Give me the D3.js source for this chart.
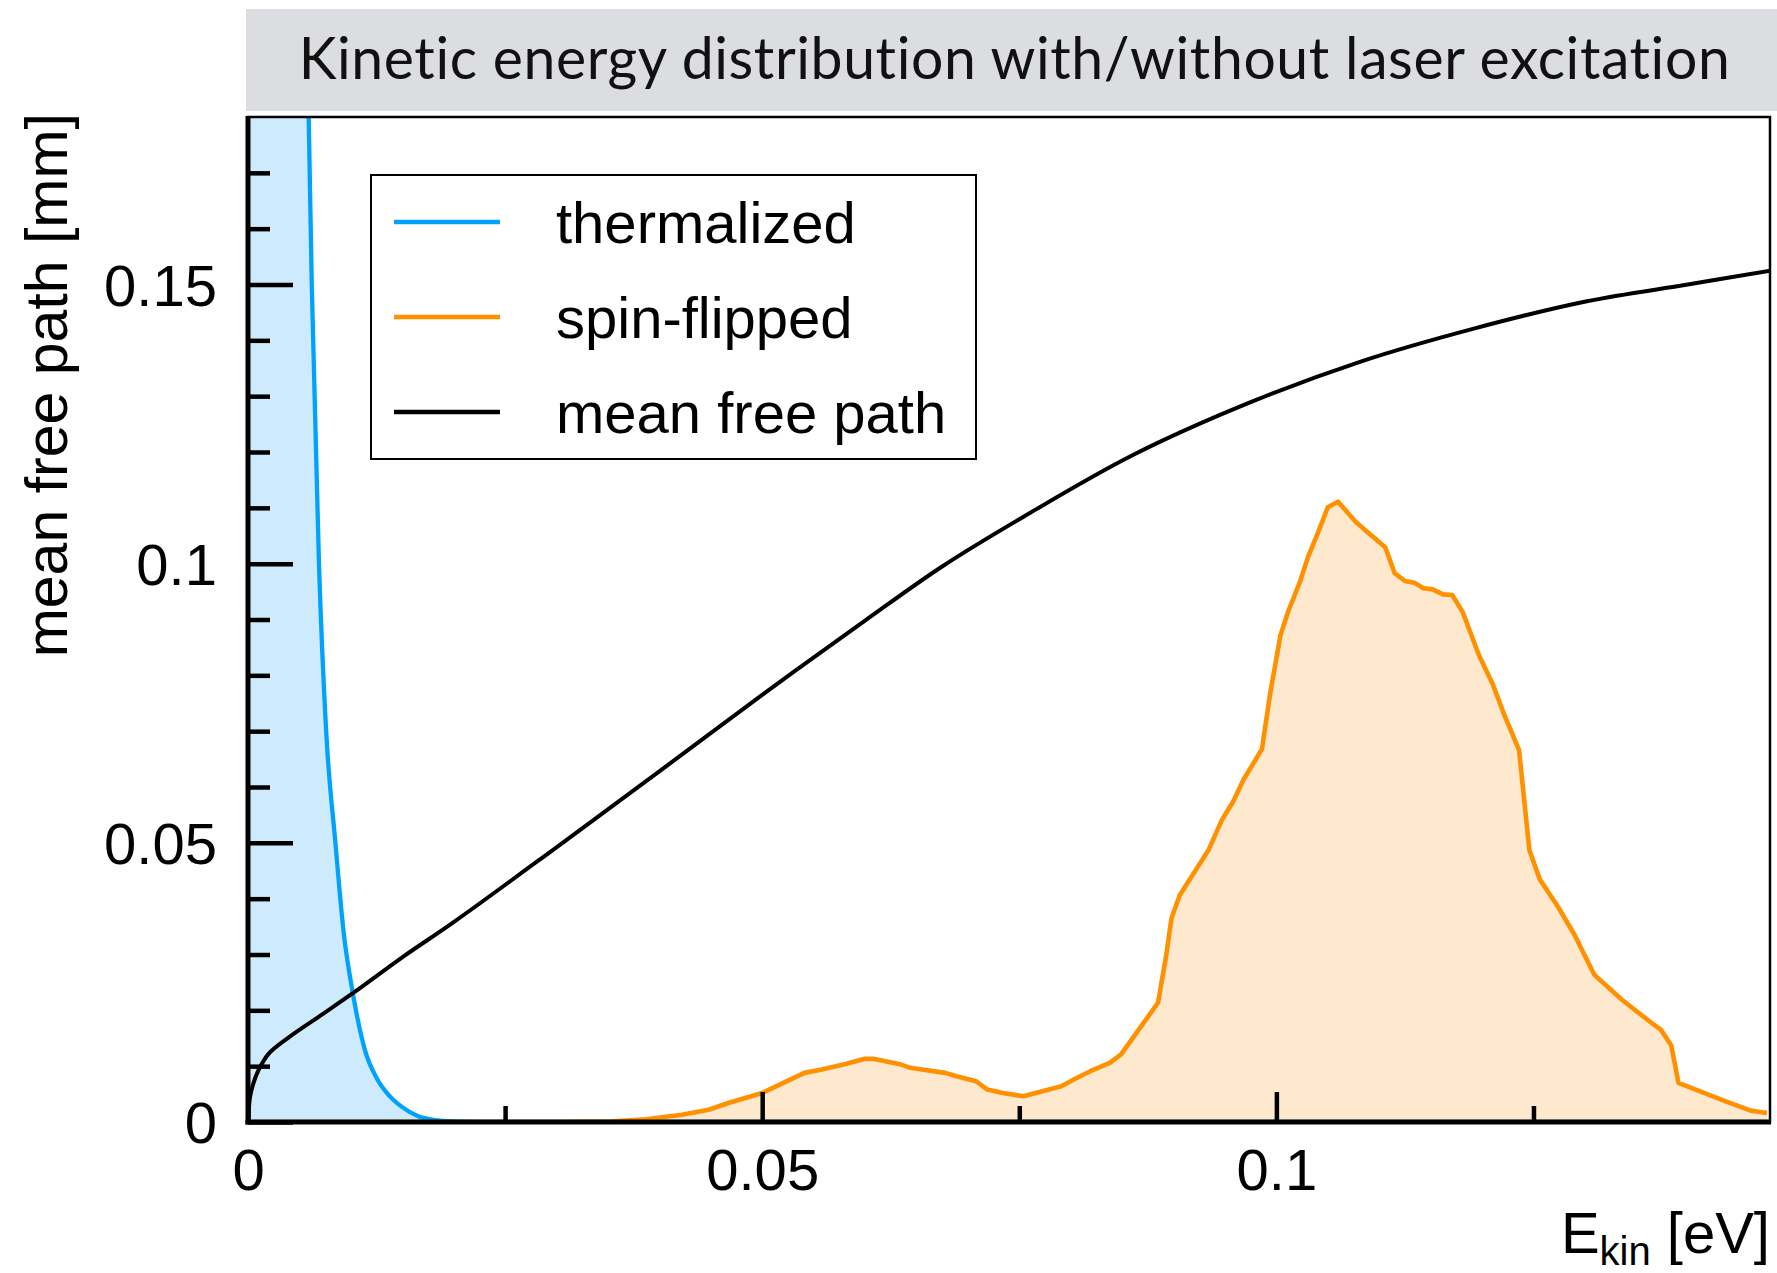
<!DOCTYPE html>
<html>
<head>
<meta charset="utf-8">
<script src="https://cdn.jsdelivr.net/npm/d3@7/dist/d3.min.js"></script>
<style>
  html, body { margin: 0; padding: 0; background: #ffffff; }
  svg { display: block; }
  .title { font-variant-ligatures: none; font-feature-settings: "liga" 0, "clig" 0, "dlig" 0; letter-spacing: 0.6px; }
</style>
</head>
<body>
<svg id="chart" width="1777" height="1273"></svg>
<script>
// Kinetic energy [eV] vs. value; mean free path in mm, distributions in arbitrary units on the same axis
const thermalizedE = [0, 0.003, 0.005, 0.0059, 0.0062, 0.0069, 0.0076, 0.0085, 0.0093, 0.0102, 0.0114, 0.0125, 0.0138, 0.0149, 0.0166, 0.018, 0.02, 0.025, 0.03, 0.148];
const thermalizedV = [0.6, 0.33, 0.22, 0.18, 0.15, 0.10, 0.070, 0.05, 0.034, 0.023, 0.0127, 0.0079, 0.0046, 0.0028, 0.001, 0.0004, 0.0001, 0, 0, 0];

const spinFlippedE = [0, 0.03, 0.0352, 0.0387, 0.0422, 0.0448, 0.0467, 0.05, 0.0517, 0.0541, 0.0558, 0.0581, 0.0599, 0.0609, 0.0633, 0.0644, 0.0678, 0.0689, 0.0708, 0.0719, 0.0734, 0.0754, 0.0791, 0.0803, 0.0819, 0.0838, 0.0849, 0.0885, 0.0893, 0.0898, 0.0906, 0.0934, 0.0947, 0.0958, 0.0968, 0.0986, 0.0994, 0.1004, 0.1012, 0.1023, 0.1031, 0.1041, 0.1050, 0.1060, 0.1077, 0.1087, 0.1096, 0.1106, 0.1115, 0.1125, 0.1134, 0.1143, 0.1152, 0.1162, 0.1171, 0.1181, 0.1197, 0.1210, 0.1221, 0.1236, 0.1246, 0.1256, 0.1274, 0.1290, 0.1309, 0.1336, 0.1363, 0.1374, 0.1384, 0.1391, 0.1437, 0.1462, 0.1477];
const spinFlippedV = [0, 0, 0.0001, 0.0005, 0.0013, 0.0022, 0.0034, 0.0052, 0.0067, 0.0088, 0.0094, 0.0104, 0.0113, 0.0113, 0.0104, 0.0097, 0.0088, 0.0082, 0.0073, 0.0058, 0.0052, 0.0046, 0.0064, 0.0076, 0.0091, 0.0106, 0.0121, 0.0214, 0.0300, 0.0365, 0.0406, 0.0487, 0.0541, 0.0574, 0.0613, 0.0668, 0.0768, 0.0872, 0.0917, 0.0968, 0.1013, 0.1058, 0.1101, 0.1111, 0.1075, 0.1059, 0.1045, 0.1029, 0.0983, 0.0969, 0.0966, 0.0956, 0.0954, 0.0945, 0.0944, 0.0914, 0.0836, 0.0786, 0.0732, 0.0666, 0.0487, 0.0435, 0.0385, 0.0335, 0.0264, 0.0219, 0.0180, 0.0165, 0.0137, 0.0070, 0.0037, 0.0020, 0.0016];

const meanFreePathE = [0, 0.0002, 0.0005, 0.001, 0.002, 0.004, 0.007, 0.0103, 0.015, 0.02, 0.03, 0.04, 0.05, 0.06, 0.0675, 0.0755, 0.0861, 0.0972, 0.1082, 0.1192, 0.1302, 0.14, 0.1481];
const meanFreePathV = [0, 0.0045, 0.0068, 0.0092, 0.0122, 0.0152, 0.0190, 0.0232, 0.0295, 0.0358, 0.0492, 0.0628, 0.0765, 0.0898, 0.0995, 0.1085, 0.1195, 0.1287, 0.1362, 0.1421, 0.1470, 0.1500, 0.1525];

const xMajorTicks = [0, 0.05, 0.1];
const xMajorLabels = ["0", "0.05", "0.1"];
const xMinorTicks = [0.025, 0.075, 0.125];
const yMajorTicks = [0, 0.05, 0.1, 0.15];
const yMajorLabels = ["0", "0.05", "0.1", "0.15"];
const yMinorTicks = [0.01, 0.02, 0.03, 0.04, 0.06, 0.07, 0.08, 0.09, 0.11, 0.12, 0.13, 0.14, 0.16, 0.17];

const legendLabels = ["thermalized", "spin-flipped", "mean free path"];
const titleText = "Kinetic energy distribution with/without laser excitation";

const colors = {
  thermLine: "#00a2fb", thermFill: "#cdebfd",
  spinLine: "#ff9100", spinFill: "#fee8ce",
  mfp: "#000000"
};

const svg = d3.select("#chart");
const W = 1777;
const plot = { left: 248, right: 1770, top: 117, bottom: 1122 };

const x = d3.scaleLinear().domain([0, 0.148]).range([plot.left, plot.right]);
const y = d3.scaleLinear().domain([0, 0.18]).range([plot.bottom, plot.top]);

const zip = (a, b) => a.map((v, i) => [v, b[i]]);
const thermal = zip(thermalizedE, thermalizedV);
const spin = zip(spinFlippedE, spinFlippedV);
const mfp = zip(meanFreePathE, meanFreePathV);

// Title strip
const titleBox = { x0: 246, y0: 9, y1: 111 };
svg.append("rect")
  .attr("x", titleBox.x0).attr("y", titleBox.y0)
  .attr("width", W - titleBox.x0).attr("height", titleBox.y1 - titleBox.y0)
  .attr("fill", "#dcdde0");
const title = svg.append("text")
  .attr("class", "title")
  .attr("x", (titleBox.x0 + W) / 2 + 3)
  .attr("y", 79)
  .attr("text-anchor", "middle")
  .attr("font-family", "Lato, 'Open Sans', sans-serif")
  .attr("font-size", 54)
  .attr("fill", "#111")
  .text(titleText);
const tl = title.node().getComputedTextLength();
if (tl > 0) title.attr("font-size", 54 * 1434 / tl);

// Clip region for data marks
svg.append("clipPath").attr("id", "plotClip")
  .append("rect")
  .attr("x", plot.left).attr("y", plot.top)
  .attr("width", plot.right - plot.left).attr("height", plot.bottom - plot.top);

const g = svg.append("g").attr("clip-path", "url(#plotClip)");

const smooth = d3.curveCatmullRom.alpha(0.5);
const areaSmooth = d3.area().x(d => x(d[0])).y0(y(0)).y1(d => y(d[1])).curve(d3.curveMonotoneX);
const lineThermal = d3.line().x(d => x(d[0])).y(d => y(d[1])).curve(d3.curveMonotoneX);
const lineMfp = d3.line().x(d => x(d[0])).y(d => y(d[1])).curve(smooth);
const areaLin = d3.area().x(d => x(d[0])).y0(y(0)).y1(d => y(d[1]));
const lineLin = d3.line().x(d => x(d[0])).y(d => y(d[1]));

g.append("path").attr("d", areaSmooth(thermal)).attr("fill", colors.thermFill);
g.append("path").attr("d", areaLin(spin)).attr("fill", colors.spinFill);
g.append("path").attr("d", lineThermal(thermal)).attr("fill", "none")
  .attr("stroke", colors.thermLine).attr("stroke-width", 4.3).attr("stroke-linejoin", "round");
g.append("path").attr("d", lineLin(spin)).attr("fill", "none")
  .attr("stroke", colors.spinLine).attr("stroke-width", 4.6).attr("stroke-linejoin", "round");
g.append("path").attr("d", lineMfp(mfp)).attr("fill", "none")
  .attr("stroke", colors.mfp).attr("stroke-width", 4).attr("stroke-linejoin", "round");

// Axes
const axisFont = "'Liberation Sans', Arial, Helvetica, sans-serif";
const fs = 58;

const yAxis = svg.append("g").attr("transform", `translate(${plot.left},0)`)
  .call(d3.axisLeft(y).tickValues(yMajorTicks).tickFormat((d, i) => yMajorLabels[i]).tickSize(-45).tickPadding(31));
const yMinor = svg.append("g").attr("transform", `translate(${plot.left},0)`)
  .call(d3.axisLeft(y).tickValues(yMinorTicks).tickFormat("").tickSize(-22));
const xAxis = svg.append("g").attr("transform", `translate(0,${plot.bottom})`)
  .call(d3.axisBottom(x).tickValues(xMajorTicks).tickFormat((d, i) => xMajorLabels[i]).tickSize(-30).tickPadding(27));
const xMinor = svg.append("g").attr("transform", `translate(0,${plot.bottom})`)
  .call(d3.axisBottom(x).tickValues(xMinorTicks).tickFormat("").tickSize(-16));

[yAxis, yMinor, xAxis, xMinor].forEach(a => {
  a.select(".domain").remove();
  a.selectAll(".tick line").attr("stroke", "#000").attr("stroke-width", 4.5);
  a.selectAll(".tick text").attr("font-family", axisFont).attr("font-size", fs).attr("fill", "#000");
});
yAxis.selectAll(".tick text").attr("dy", "0.36em");

// Frame: thin top/right, heavy left/bottom
svg.append("rect")
  .attr("x", plot.left).attr("y", plot.top)
  .attr("width", plot.right - plot.left).attr("height", plot.bottom - plot.top)
  .attr("fill", "none").attr("stroke", "#000").attr("stroke-width", 2.5);
svg.append("line").attr("x1", plot.left).attr("x2", plot.left)
  .attr("y1", plot.top - 1).attr("y2", plot.bottom + 2.5)
  .attr("stroke", "#000").attr("stroke-width", 5);
svg.append("line").attr("x1", plot.left - 2.5).attr("x2", plot.right + 1)
  .attr("y1", plot.bottom).attr("y2", plot.bottom)
  .attr("stroke", "#000").attr("stroke-width", 5);

// Axis titles
svg.append("text")
  .attr("transform", `translate(67,${plot.top - 4}) rotate(-90)`)
  .attr("text-anchor", "end")
  .attr("font-family", axisFont).attr("font-size", 59).attr("fill", "#000")
  .text("mean free path [mm]");

const xt = svg.append("text")
  .attr("x", plot.right).attr("y", 1253)
  .attr("text-anchor", "end")
  .attr("font-family", axisFont).attr("font-size", fs).attr("fill", "#000");
xt.append("tspan").text("E");
xt.append("tspan").attr("font-size", 40).attr("dy", 12).text("kin");
xt.append("tspan").attr("dy", -12).text(" [eV]");

// Legend
const legend = { x0: 371, y0: 175, x1: 976, y1: 459 };
svg.append("rect")
  .attr("x", legend.x0).attr("y", legend.y0)
  .attr("width", legend.x1 - legend.x0).attr("height", legend.y1 - legend.y0)
  .attr("fill", "#fff").attr("stroke", "#000").attr("stroke-width", 2);
const legendColors = [colors.thermLine, colors.spinLine, colors.mfp];
const rowY = d3.scalePoint().domain(legendLabels).range([222, 412]);
legendLabels.forEach((lab, i) => {
  const yy = rowY(lab);
  svg.append("line").attr("x1", 394).attr("x2", 500).attr("y1", yy).attr("y2", yy)
    .attr("stroke", legendColors[i]).attr("stroke-width", 4.3);
  svg.append("text").attr("x", 556).attr("y", yy + 21)
    .attr("font-family", axisFont).attr("font-size", fs).attr("fill", "#000")
    .text(lab);
});
</script>
</body>
</html>
